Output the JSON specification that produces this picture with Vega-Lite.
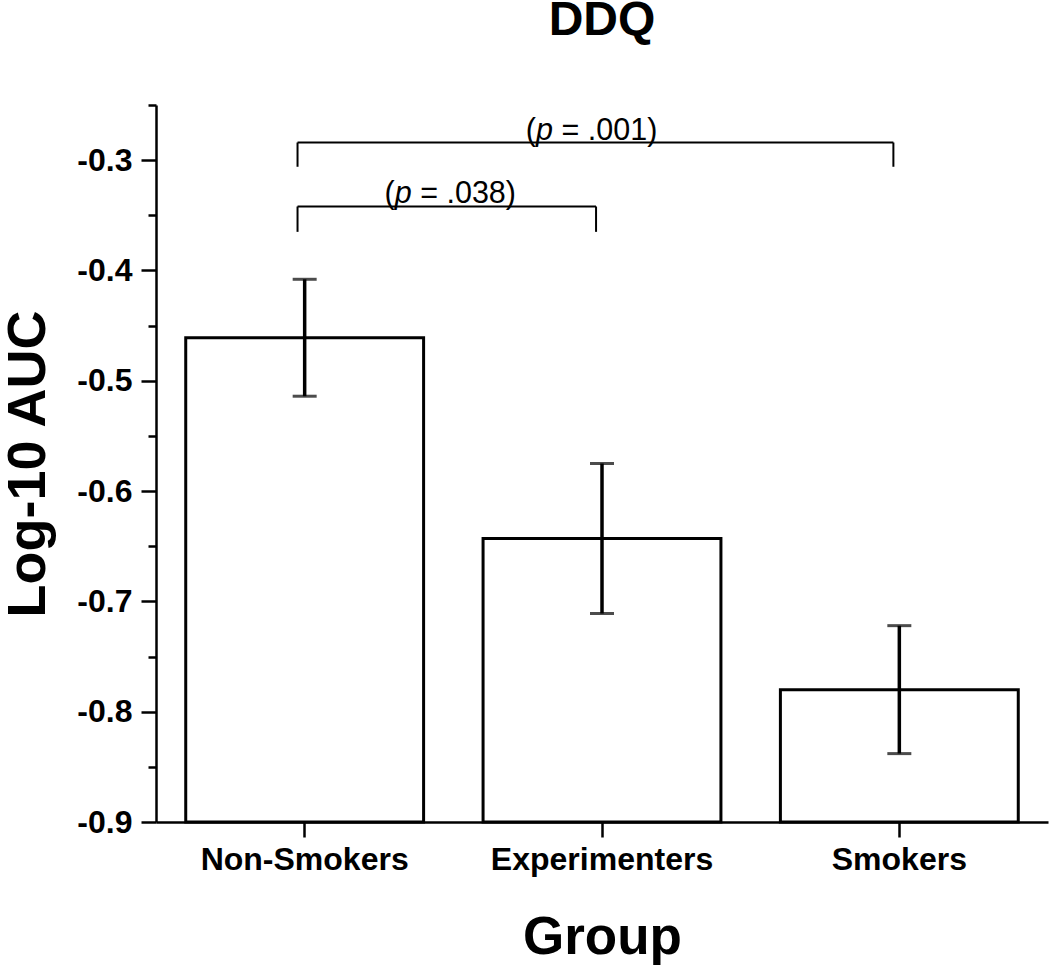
{
  "$schema": "https://vega.github.io/schema/vega-lite/v6.json",
  "width": 892,
  "height": 717,
  "autosize": {"type": "none"},
  "padding": {"left": 156, "top": 105, "right": 2, "bottom": 147},
  "background": "white",
  "config": {"view": {"stroke": null}},
  "title": {"text": "DDQ", "font": "Liberation Sans", "fontSize": 48, "fontWeight": "bold", "color": "black", "anchor": "middle", "baseline": "alphabetic", "offset": 21, "frame": "group"},
  "datasets": {
    "groups": [
      {"Group": "Non-Smokers", "AUC": -0.461, "lower": -0.514, "upper": -0.408},
      {"Group": "Experimenters", "AUC": -0.643, "lower": -0.711, "upper": -0.575},
      {"Group": "Smokers", "AUC": -0.780, "lower": -0.838, "upper": -0.722}
    ],
    "brackets": [
      {"from": "Non-Smokers", "to": "Smokers", "level": -0.284, "foot": -0.306, "at": "Experimenters", "pre": "(", "sym": "p", "post": "= .001)"},
      {"from": "Non-Smokers", "to": "Experimenters", "level": -0.342, "foot": -0.365, "at": "Non-Smokers", "pre": "(", "sym": "p", "post": "= .038)"}
    ]
  },
  "layer": [
    {
      "data": {"name": "groups"},
      "mark": {"type": "bar", "fill": "white", "stroke": "black", "strokeWidth": 3},
      "encoding": {
        "x": {
          "field": "Group", "type": "nominal", "title": "Group",
          "scale": {"domain": ["Non-Smokers", "Experimenters", "Smokers"], "paddingInner": 0.2, "paddingOuter": 0.1},
          "axis": {
            "title": "Group", "titleFont": "Liberation Sans", "titleFontSize": 53, "titleFontWeight": "bold", "titleColor": "black", "titlePadding": 36,
            "labelFont": "Liberation Sans", "labelFontSize": 32, "labelFontWeight": "bold", "labelColor": "black", "labelAngle": 0, "labelPadding": 7,
            "labelLimit": 0, "labelOverlap": false,
            "tickSize": 15, "tickWidth": 2.5, "tickColor": "black", "domainWidth": 2.5, "domainColor": "black", "grid": false
          }
        },
        "y": {
          "field": "AUC", "type": "quantitative", "title": "Log-10 AUC",
          "scale": {"domain": [-0.9, -0.25], "zero": false, "nice": false},
          "axis": {
            "title": "Log-10 AUC", "titleFont": "Liberation Sans", "titleFontSize": 54, "titleFontWeight": "bold", "titleColor": "black", "titlePadding": 21,
            "values": [-0.9, -0.85, -0.8, -0.75, -0.7, -0.65, -0.6, -0.55, -0.5, -0.45, -0.4, -0.35, -0.3, -0.25],
            "labelExpr": "abs(datum.value*10 - round(datum.value*10)) < 0.01 ? '-' + format(abs(datum.value), '.1f') : ''",
            "labelFont": "Liberation Sans", "labelFontSize": 32, "labelFontWeight": "bold", "labelColor": "black", "labelPadding": 9,
            "tickSize": {"condition": {"test": "abs(datum.value*10 - round(datum.value*10)) < 0.01", "value": 15}, "value": 8},
            "tickWidth": 2.5, "tickColor": "black", "domainWidth": 2.5, "domainColor": "black", "grid": false
          }
        },
        "y2": {"datum": -0.9}
      }
    },
    {
      "data": {"name": "groups"},
      "mark": {"type": "rule", "color": "black", "strokeWidth": 3.5},
      "encoding": {
        "x": {"field": "Group", "type": "nominal"},
        "y": {"field": "lower", "type": "quantitative"},
        "y2": {"field": "upper"}
      }
    },
    {
      "data": {"name": "groups"},
      "mark": {"type": "tick", "color": "black", "size": 24, "thickness": 3, "orient": "horizontal"},
      "encoding": {
        "x": {"field": "Group", "type": "nominal"},
        "y": {"field": "lower", "type": "quantitative"}
      }
    },
    {
      "data": {"name": "groups"},
      "mark": {"type": "tick", "color": "black", "size": 24, "thickness": 3, "orient": "horizontal"},
      "encoding": {
        "x": {"field": "Group", "type": "nominal"},
        "y": {"field": "upper", "type": "quantitative"}
      }
    },
    {
      "data": {"name": "brackets"},
      "mark": {"type": "rule", "color": "black", "strokeWidth": 2},
      "encoding": {
        "x": {"field": "from", "type": "nominal", "bandPosition": 0.47},
        "x2": {"field": "to", "bandPosition": 0.475},
        "y": {"field": "level", "type": "quantitative"}
      }
    },
    {
      "data": {"name": "brackets"},
      "mark": {"type": "rule", "color": "black", "strokeWidth": 2},
      "encoding": {
        "x": {"field": "from", "type": "nominal", "bandPosition": 0.47},
        "y": {"field": "level", "type": "quantitative"},
        "y2": {"field": "foot"}
      }
    },
    {
      "data": {"name": "brackets"},
      "mark": {"type": "rule", "color": "black", "strokeWidth": 2},
      "encoding": {
        "x": {"field": "to", "type": "nominal", "bandPosition": 0.475},
        "y": {"field": "level", "type": "quantitative"},
        "y2": {"field": "foot"}
      }
    },
    {
      "data": {"name": "brackets"},
      "transform": [{"filter": "datum.at == 'Experimenters'"}],
      "encoding": {
        "x": {"field": "at", "type": "nominal"},
        "y": {"field": "level", "type": "quantitative"}
      },
      "layer": [
        {"mark": {"type": "text", "align": "right", "baseline": "alphabetic", "dx": -66, "dy": -3, "font": "Liberation Sans", "fontSize": 30.5, "color": "black"}, "encoding": {"text": {"field": "pre"}}},
        {"mark": {"type": "text", "align": "left", "baseline": "alphabetic", "dx": -66, "dy": -3, "font": "Liberation Sans", "fontSize": 30.5, "fontStyle": "italic", "color": "black"}, "encoding": {"text": {"field": "sym"}}},
        {"mark": {"type": "text", "align": "left", "baseline": "alphabetic", "dx": -40.5, "dy": -3, "font": "Liberation Sans", "fontSize": 30.5, "color": "black"}, "encoding": {"text": {"field": "post"}}}
      ]
    },
    {
      "data": {"name": "brackets"},
      "transform": [{"filter": "datum.at == 'Non-Smokers'"}],
      "encoding": {
        "x": {"field": "at", "type": "nominal"},
        "y": {"field": "level", "type": "quantitative"}
      },
      "layer": [
        {"mark": {"type": "text", "align": "right", "baseline": "alphabetic", "dx": 90, "dy": -3, "font": "Liberation Sans", "fontSize": 30.5, "color": "black"}, "encoding": {"text": {"field": "pre"}}},
        {"mark": {"type": "text", "align": "left", "baseline": "alphabetic", "dx": 90, "dy": -3, "font": "Liberation Sans", "fontSize": 30.5, "fontStyle": "italic", "color": "black"}, "encoding": {"text": {"field": "sym"}}},
        {"mark": {"type": "text", "align": "left", "baseline": "alphabetic", "dx": 115.5, "dy": -3, "font": "Liberation Sans", "fontSize": 30.5, "color": "black"}, "encoding": {"text": {"field": "post"}}}
      ]
    }
  ]
}
